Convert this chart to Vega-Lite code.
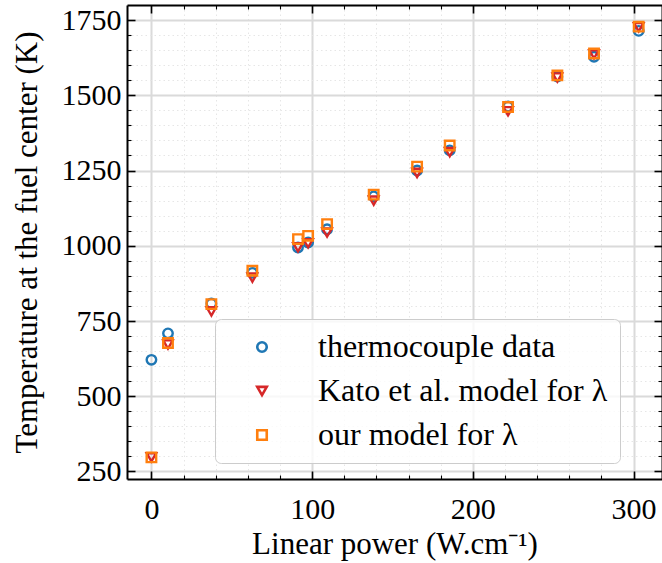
{
  "$schema": "https://vega.github.io/schema/vega-lite/v6.json",
  "autosize": {"type": "none"},
  "width": 535,
  "height": 474,
  "padding": {"left": 127, "top": 5, "right": 0, "bottom": 84},
  "background": "white",
  "data": {
    "values": [
      {"P": 0, "T": 621, "series": "thermocouple data"},
      {"P": 10.3, "T": 709, "series": "thermocouple data"},
      {"P": 37.3, "T": 808, "series": "thermocouple data"},
      {"P": 62.8, "T": 910, "series": "thermocouple data"},
      {"P": 91.2, "T": 994, "series": "thermocouple data"},
      {"P": 97.5, "T": 1011, "series": "thermocouple data"},
      {"P": 109.3, "T": 1055, "series": "thermocouple data"},
      {"P": 138.3, "T": 1164, "series": "thermocouple data"},
      {"P": 165.3, "T": 1250, "series": "thermocouple data"},
      {"P": 185.6, "T": 1317, "series": "thermocouple data"},
      {"P": 221.9, "T": 1463, "series": "thermocouple data"},
      {"P": 252.6, "T": 1562, "series": "thermocouple data"},
      {"P": 275.4, "T": 1628, "series": "thermocouple data"},
      {"P": 303.2, "T": 1714, "series": "thermocouple data"},
      {"P": 0, "T": 297, "series": "Kato et al. model for λ"},
      {"P": 10.3, "T": 672, "series": "Kato et al. model for λ"},
      {"P": 37.3, "T": 782, "series": "Kato et al. model for λ"},
      {"P": 62.8, "T": 894, "series": "Kato et al. model for λ"},
      {"P": 91.2, "T": 995, "series": "Kato et al. model for λ"},
      {"P": 97.5, "T": 1008, "series": "Kato et al. model for λ"},
      {"P": 109.3, "T": 1044, "series": "Kato et al. model for λ"},
      {"P": 138.3, "T": 1150, "series": "Kato et al. model for λ"},
      {"P": 165.3, "T": 1242, "series": "Kato et al. model for λ"},
      {"P": 185.6, "T": 1311, "series": "Kato et al. model for λ"},
      {"P": 221.9, "T": 1447, "series": "Kato et al. model for λ"},
      {"P": 252.6, "T": 1559, "series": "Kato et al. model for λ"},
      {"P": 275.4, "T": 1636, "series": "Kato et al. model for λ"},
      {"P": 303.2, "T": 1726, "series": "Kato et al. model for λ"},
      {"P": 0, "T": 297, "series": "our model for λ"},
      {"P": 10.3, "T": 677, "series": "our model for λ"},
      {"P": 37.3, "T": 806, "series": "our model for λ"},
      {"P": 62.8, "T": 917, "series": "our model for λ"},
      {"P": 91.2, "T": 1022, "series": "our model for λ"},
      {"P": 97.5, "T": 1033, "series": "our model for λ"},
      {"P": 109.3, "T": 1072, "series": "our model for λ"},
      {"P": 138.3, "T": 1170, "series": "our model for λ"},
      {"P": 165.3, "T": 1263, "series": "our model for λ"},
      {"P": 185.6, "T": 1333, "series": "our model for λ"},
      {"P": 221.9, "T": 1461, "series": "our model for λ"},
      {"P": 252.6, "T": 1566, "series": "our model for λ"},
      {"P": 275.4, "T": 1639, "series": "our model for λ"},
      {"P": 303.2, "T": 1728, "series": "our model for λ"}
    ]
  },
  "resolve": {"axis": {"x": "independent", "y": "independent"}},
  "layer": [
    {
      "mark": {"type": "point", "opacity": 0},
      "encoding": {
        "x": {
          "field": "P", "type": "quantitative",
          "scale": {"domain": [-15.2, 317.7], "nice": false, "zero": false},
          "axis": {
            "orient": "top", "labels": false, "grid": false, "title": null, "domain": true,
            "values": [0,20,40,60,80,100,120,140,160,180,200,220,240,260,280,300],
            "tickSize": {"condition": {"test": "datum.value % 100 === 0", "value": -8}, "value": -4},
            "tickWidth": {"condition": {"test": "datum.value % 100 === 0", "value": 1.6}, "value": 1.1}
          }
        },
        "y": {
          "field": "T", "type": "quantitative",
          "scale": {"domain": [225, 1800], "nice": false, "zero": false},
          "axis": {
            "orient": "right", "labels": false, "grid": false, "title": null, "domain": true,
            "values": [250,300,350,400,450,500,550,600,650,700,750,800,850,900,950,1000,1050,1100,1150,1200,1250,1300,1350,1400,1450,1500,1550,1600,1650,1700,1750],
            "tickSize": {"condition": {"test": "datum.value % 250 === 0", "value": -8}, "value": -4},
            "tickWidth": {"condition": {"test": "datum.value % 250 === 0", "value": 1.6}, "value": 1.1}
          }
        }
      }
    },
    {
      "mark": {"type": "point", "filled": false, "strokeWidth": 2.4, "size": 90, "opacity": 1},
      "encoding": {
        "x": {
          "field": "P", "type": "quantitative",
          "scale": {"domain": [-15.2, 317.7], "nice": false, "zero": false},
          "axis": {
            "orient": "bottom", "title": "Linear power (W.cm⁻¹)",
            "values": [0,20,40,60,80,100,120,140,160,180,200,220,240,260,280,300],
            "labelExpr": "datum.value % 100 === 0 ? datum.label : ''",
            "labelOverlap": false, "labelFlush": false, "labelBound": false,
            "labelPadding": 23, "titlePadding": 1,
            "tickSize": {"condition": {"test": "datum.value % 100 === 0", "value": -8}, "value": -4},
            "tickWidth": {"condition": {"test": "datum.value % 100 === 0", "value": 1.6}, "value": 1.1},
            "grid": true,
            "gridColor": {"condition": {"test": "datum.value % 100 === 0", "value": "#dadada"}, "value": "#e6e6e6"},
            "gridDash": {"condition": {"test": "datum.value % 100 === 0", "value": []}, "value": [1.5, 3]},
            "gridWidth": {"condition": {"test": "datum.value % 100 === 0", "value": 2}, "value": 1}
          }
        },
        "y": {
          "field": "T", "type": "quantitative",
          "scale": {"domain": [225, 1800], "nice": false, "zero": false},
          "axis": {
            "orient": "left", "title": "Temperature at the fuel center (K)",
            "values": [250,300,350,400,450,500,550,600,650,700,750,800,850,900,950,1000,1050,1100,1150,1200,1250,1300,1350,1400,1450,1500,1550,1600,1650,1700,1750],
            "labelExpr": "datum.value % 250 === 0 ? datum.label : ''",
            "format": "d",
            "labelOverlap": false, "labelFlush": false, "labelBound": false,
            "labelPadding": 14, "titlePadding": 18,
            "tickSize": {"condition": {"test": "datum.value % 250 === 0", "value": -8}, "value": -4},
            "tickWidth": {"condition": {"test": "datum.value % 250 === 0", "value": 1.6}, "value": 1.1},
            "grid": true,
            "gridColor": {"condition": {"test": "datum.value % 250 === 0", "value": "#dadada"}, "value": "#e6e6e6"},
            "gridDash": {"condition": {"test": "datum.value % 250 === 0", "value": []}, "value": [1.5, 3]},
            "gridWidth": {"condition": {"test": "datum.value % 250 === 0", "value": 2}, "value": 1}
          }
        },
        "color": {
          "field": "series", "type": "nominal",
          "scale": {"domain": ["thermocouple data", "Kato et al. model for λ", "our model for λ"], "range": ["#1f77b4", "#d62728", "#ff7f0e"]},
          "legend": {
            "title": null, "orient": "none", "legendX": 88, "legendY": 314,
            "fillColor": "rgba(255,255,255,0.8)", "strokeColor": "#cccccc",
            "cornerRadius": 6, "padding": 12,
            "labelFont": "Liberation Serif", "labelFontSize": 32, "labelColor": "black",
            "symbolSize": 90, "symbolStrokeWidth": 2.6, "symbolOffset": 19, "labelOffset": 40,
            "rowPadding": 12, "labelLimit": 600
          }
        },
        "shape": {
          "field": "series", "type": "nominal",
          "scale": {"domain": ["thermocouple data", "Kato et al. model for λ", "our model for λ"], "range": ["circle", "triangle-down", "square"]},
          "legend": null
        }
      }
    }
  ],
  "config": {
    "font": "Liberation Serif",
    "view": {"stroke": null},
    "axis": {
      "domainColor": "black", "domainWidth": 2, "tickColor": "black",
      "labelFont": "Liberation Serif", "labelFontSize": 30, "labelColor": "black",
      "titleFont": "Liberation Serif", "titleFontSize": 31, "titleFontWeight": "normal", "titleColor": "black"
    }
  }
}
